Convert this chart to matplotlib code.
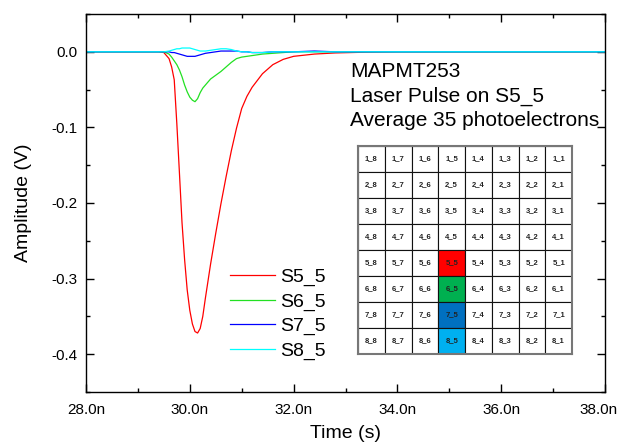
import matplotlib
matplotlib.use("Agg")
import matplotlib.pyplot as plt
from matplotlib.patches import Rectangle
from matplotlib.transforms import ScaledTranslation
from matplotlib.ticker import FuncFormatter, FormatStrFormatter, MultipleLocator

plt.rcParams['font.family'] = ['Liberation Sans', 'DejaVu Sans']

# time axis in ns
time_ns = [28.0, 29.0, 29.4, 29.5, 29.6, 29.65, 29.7, 29.75, 29.8, 29.85, 29.9, 29.95,
           30.0, 30.05, 30.1, 30.15, 30.2, 30.25, 30.3, 30.4, 30.5, 30.6, 30.7, 30.8,
           30.9, 31.0, 31.1, 31.2, 31.4, 31.6, 31.8, 32.0, 32.4, 32.8, 33.4, 34.0, 36.0, 38.0]

s5_5 = [0.0, 0.0, 0.0, -0.001, -0.009, -0.02, -0.037, -0.095, -0.160, -0.226, -0.275, -0.315,
        -0.342, -0.360, -0.370, -0.372, -0.366, -0.350, -0.326, -0.281, -0.240, -0.201, -0.165, -0.131,
        -0.101, -0.075, -0.059, -0.047, -0.029, -0.017, -0.010, -0.006, -0.003, -0.0015, -0.0005, 0.0, 0.0, 0.0]

s6_5 = [0.0, 0.0, 0.0, 0.0, -0.003, -0.007, -0.012, -0.017, -0.024, -0.033, -0.044, -0.053,
        -0.060, -0.064, -0.066, -0.062, -0.054, -0.048, -0.044, -0.036, -0.031, -0.026, -0.020, -0.014,
        -0.009, -0.007, -0.006, -0.005, -0.003, -0.002, -0.001, 0.0, 0.0, 0.0, 0.0, 0.0, 0.0, 0.0]

s7_5 = [0.0, 0.0, 0.0, 0.0, 0.0, -0.001, -0.001, -0.002, -0.003, -0.004, -0.005, -0.006,
        -0.006, -0.006, -0.006, -0.005, -0.004, -0.003, -0.002, -0.001, 0.0, 0.001, 0.001, 0.001,
        0.001, 0.0, 0.0, -0.001, -0.001, 0.0, 0.0, 0.0, 0.001, 0.0, 0.0, 0.0, 0.0, 0.0]

s8_5 = [0.0, 0.0, 0.0, 0.0, 0.001, 0.002, 0.003, 0.004, 0.004, 0.005, 0.005, 0.005,
        0.005, 0.004, 0.003, 0.002, 0.001, 0.001, 0.001, 0.002, 0.003, 0.004, 0.004, 0.003,
        0.001, 0.0, 0.0, -0.001, -0.001, 0.0, 0.0, 0.0, 0.0, 0.0, 0.0, 0.0, 0.0, 0.0]

series_labels = ["S5_5", "S6_5", "S7_5", "S8_5"]
series_colors = ["#ff0000", "#22e022", "#0000ff", "#00ffff"]

info_lines = ["MAPMT253", "Laser Pulse on S5_5", "Average 35 photoelectrons"]

# pixel map layout: rows 1..8 top to bottom, columns 8..1 left to right
map_rows = [1, 2, 3, 4, 5, 6, 7, 8]
map_cols = [8, 7, 6, 5, 4, 3, 2, 1]
map_highlight = {"5_5": "#ff0000", "6_5": "#00b050", "7_5": "#0070c0", "8_5": "#00b0f0"}

W, H = 622, 446
fig = plt.figure(figsize=(W / 100, H / 100), dpi=100)
ax = fig.add_axes([86 / W, 1 - 392 / H, (605 - 86) / W, (392 - 14) / H])

for y, lab, col in zip([s5_5, s6_5, s7_5, s8_5], series_labels, series_colors):
    ax.plot(time_ns, y, color=col, lw=0.9, label=lab)

ax.set_xlim(28, 38)
ax.set_ylim(-0.45, 0.05)
ax.xaxis.set_major_locator(MultipleLocator(2))
ax.xaxis.set_minor_locator(MultipleLocator(1))
ax.yaxis.set_major_locator(MultipleLocator(0.1))
ax.yaxis.set_minor_locator(MultipleLocator(0.05))
ax.xaxis.set_major_formatter(FuncFormatter(lambda v, p: f"{v:.1f}n"))
ax.yaxis.set_major_formatter(FormatStrFormatter('%.1f'))
ax.tick_params(which='both', direction='in', top=True, right=True, labelsize=11, width=1)
ax.tick_params(which='major', length=6)
ax.tick_params(which='minor', length=3)
ax.tick_params(axis='x', pad=8)
ax.tick_params(axis='y', pad=6)
for sp in ax.spines.values():
    sp.set_linewidth(1.0)

ax.set_xlabel("Time (s)", fontsize=14, labelpad=6)
ax.set_ylabel("Amplitude (V)", fontsize=14, labelpad=14)

ax.legend(loc='upper left', bbox_to_anchor=(230 / W, 1 - 268 / H), bbox_transform=fig.transFigure,
          frameon=False, fontsize=14, handlelength=2.3, handletextpad=0.3,
          labelspacing=0.36, borderpad=0, borderaxespad=0)

fig.text(350 / W, 1 - 62 / H, "\n".join(info_lines), fontsize=15, va='top', ha='left',
         linespacing=1.35)

# pixel map inset
gx = fig.add_axes([358 / W, 1 - 354 / H, 214 / W, 208 / H])
gx.set_xlim(0, len(map_cols))
gx.set_ylim(len(map_rows), 0)
for i, r in enumerate(map_rows):
    for j, c in enumerate(map_cols):
        name = f"{r}_{c}"
        gx.add_patch(Rectangle((j, i), 1, 1, facecolor=map_highlight.get(name, "white"),
                               edgecolor="#111111", lw=0.8))
        gx.text(j + 0.5, i + 0.5, name, ha='center', va='center', fontsize=5.5,
                fontweight='bold', color="#222222")
gx.set_xticks([])
gx.set_yticks([])
for sp in gx.spines.values():
    sp.set_linewidth(1.5)
    sp.set_color("#777777")

# nudge the 38.0n label left so it stays inside the figure
fig.canvas.draw()
for tick in ax.xaxis.get_major_ticks():
    if abs(tick.get_loc() - 38.0) < 1e-6:
        lab = tick.label1
        lab.set_transform(lab.get_transform() + ScaledTranslation(-0.06, 0, fig.dpi_scale_trans))

fig.savefig("out.png", dpi=100)
